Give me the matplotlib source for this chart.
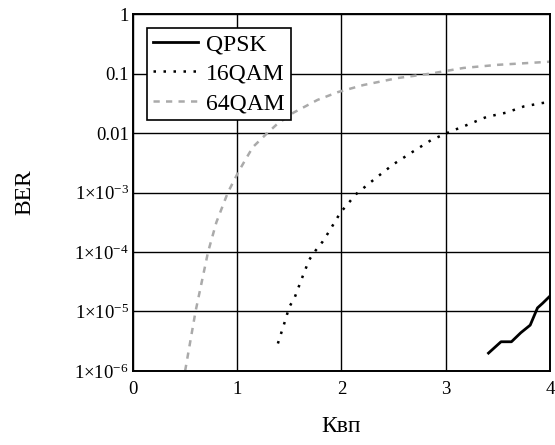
import numpy as np
import matplotlib.pyplot as plt
from matplotlib.ticker import FixedLocator, FixedFormatter, NullLocator

# curves (x = Kvp, y = BER)
qpsk_x = [3.41, 3.53, 3.63, 3.72, 3.81, 3.88, 3.93, 4.0]
qpsk_y = [2.0e-6, 3.1e-6, 3.1e-6, 4.4e-6, 5.9e-6, 1.15e-5, 1.38e-5, 1.82e-5]

qam16_x = [1.39, 1.45, 1.50, 1.55, 1.62, 1.69, 1.75, 1.82, 1.88, 1.99, 2.14,
           2.32, 2.50, 2.68, 2.86, 3.04, 3.22, 3.39, 3.58, 3.75, 3.93, 4.0]
qam16_y = [2.9e-6, 6.2e-6, 1.2e-5, 1.7e-5, 3.6e-5, 7.4e-5, 1.05e-4, 1.5e-4,
           2.2e-4, 4.6e-4, 9.4e-4, 1.7e-3, 3.0e-3, 4.8e-3, 7.6e-3, 0.0105,
           0.014, 0.0186, 0.022, 0.028, 0.032, 0.033]

qam64_x = [0.50, 0.55, 0.60, 0.66, 0.72, 0.80, 0.91, 1.01, 1.08, 1.15, 1.27,
           1.38, 1.54, 1.77, 1.97, 2.21, 2.54, 2.86, 3.17, 3.50, 4.0]
qam64_y = [1e-6, 3.16e-6, 1e-5, 3.16e-5, 1e-4, 3.16e-4, 1e-3, 2.2e-3, 3.6e-3,
           5.8e-3, 9.3e-3, 0.014, 0.022, 0.036, 0.049, 0.064, 0.084, 0.1,
           0.124, 0.14, 0.158]

x_ticks = [0, 1, 2, 3, 4]
y_ticks = [1e-6, 1e-5, 1e-4, 1e-3, 1e-2, 1e-1, 1]
y_labels = [r'$1{\times}10^{-6}$', r'$1{\times}10^{-5}$', r'$1{\times}10^{-4}$',
            r'$1{\times}10^{-3}$', '0.01', '0.1', '1']

plt.rcParams['font.family'] = ['Liberation Serif', 'DejaVu Serif']
plt.rcParams['mathtext.fontset'] = 'custom'
plt.rcParams['mathtext.rm'] = 'Liberation Serif'
plt.rcParams['mathtext.it'] = 'Liberation Serif'

fig = plt.figure(figsize=(5.55, 4.45), dpi=100)
ax = fig.add_axes([0.2396, 0.1663, 0.7514, 0.8022])

ax.plot(qpsk_x, qpsk_y, color='black', lw=2.0, label='QPSK')
ax.plot(qam16_x, qam16_y, color='black', lw=1.8, linestyle=(0, (1, 3)), label='16QAM')
ax.plot(qam64_x, qam64_y, color='#aaaaaa', lw=1.8, linestyle=(0, (2.5, 2.5)), label='64QAM')

ax.set_yscale('log')
ax.set_xlim(0, 4)
ax.set_ylim(1e-6, 1)
ax.xaxis.set_major_locator(FixedLocator(x_ticks))
ax.yaxis.set_major_locator(FixedLocator(y_ticks))
ax.yaxis.set_major_formatter(FixedFormatter(y_labels))
ax.yaxis.set_minor_locator(NullLocator())
ax.tick_params(length=0, labelsize=13.5)
ax.tick_params(axis='x', pad=7)
ax.tick_params(axis='y', pad=3)

ax.grid(True, color='black', lw=1.0)
for s in ax.spines.values():
    s.set_linewidth(1.4)
    s.set_color('black')

ax.set_xlabel('Квп', fontsize=17, labelpad=13)
ax.set_ylabel('BER', fontsize=17, labelpad=28)

leg = ax.legend(loc='upper left', bbox_to_anchor=(0.034, 0.961), borderaxespad=0,
                fontsize=17, fancybox=False, framealpha=1, edgecolor='black',
                handlelength=1.9, handletextpad=0.35, borderpad=0.25, labelspacing=0.33)
leg.get_frame().set_linewidth(1.2)

fig.savefig('out.png', dpi=100)
